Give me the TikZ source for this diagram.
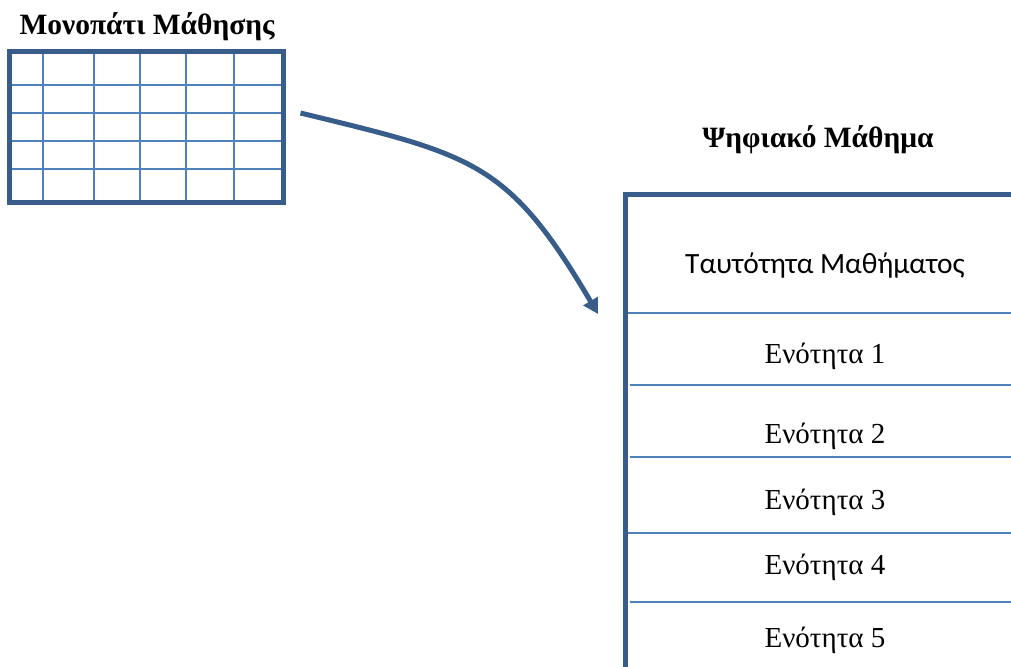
\documentclass[tikz,border=0pt]{standalone}
\usepackage{fontspec}
\setmainfont{Liberation Serif}
\newfontfamily\calibrifont{Carlito}
\usetikzlibrary{arrows.meta,positioning,calc}
\definecolor{framecol}{HTML}{385D8A}
\definecolor{rulecol}{HTML}{4F81BD}

\begin{document}
\begin{tikzpicture}[x=1pt, y=-1pt,
    frame/.style={draw=framecol, line width=5pt},
    rowline/.style={draw=rulecol, line width=2pt},
    flowarrow/.style={draw=framecol, line width=5pt, -{Triangle[length=15pt,width=16pt]}},
    heading/.style={font=\fontsize{29.5}{35}\selectfont\bfseries, anchor=base},
    unit/.style={font=\fontsize{29}{35}\selectfont, anchor=base}]
  \useasboundingbox (0,0) rectangle (1011,666);

  % learning path grid
  \node[heading] (pathtitle) at (147,35) {Μονοπάτι Μάθησης};
  \foreach \gx in {43,94,140,186,234}
    \draw[rowline] (\gx,52) -- (\gx,203);
  \foreach \gy in {85,113,141,169}
    \draw[rowline] (9,\gy) -- (285,\gy);
  \node[frame, minimum width=274pt, minimum height=150pt, inner sep=0pt] (grid) at (146,127) {};

  % digital lesson
  \node[heading] (lessontitle) at (818,147) {Ψηφιακό Μάθημα};
  \foreach \ly/\lx in {313/627, 385/630, 457/630, 533/626, 602/630}
    \draw[rowline] (\lx,\ly) -- (1011,\ly);
  \draw[frame] (625,670) -- (625,194) -- (1015,194);
  \node[anchor=base, font=\calibrifont\fontsize{29.4}{35}\selectfont] (ident) at (825,273) {Ταυτότητα Μαθήματος};
  \node[unit] (unit1) at (825,363) {Ενότητα 1};
  \node[unit] (unit2) at (825,443) {Ενότητα 2};
  \node[unit] (unit3) at (825,509) {Ενότητα 3};
  \node[unit] (unit4) at (825,574) {Ενότητα 4};
  \node[unit] (unit5) at (825,647) {Ενότητα 5};

  \coordinate (lessonin) at (598,314);
  \draw[flowarrow] ($(grid.east)+(15,-14)$) .. controls (473,155) and (508,161) .. (lessonin);
\end{tikzpicture}
\end{document}
